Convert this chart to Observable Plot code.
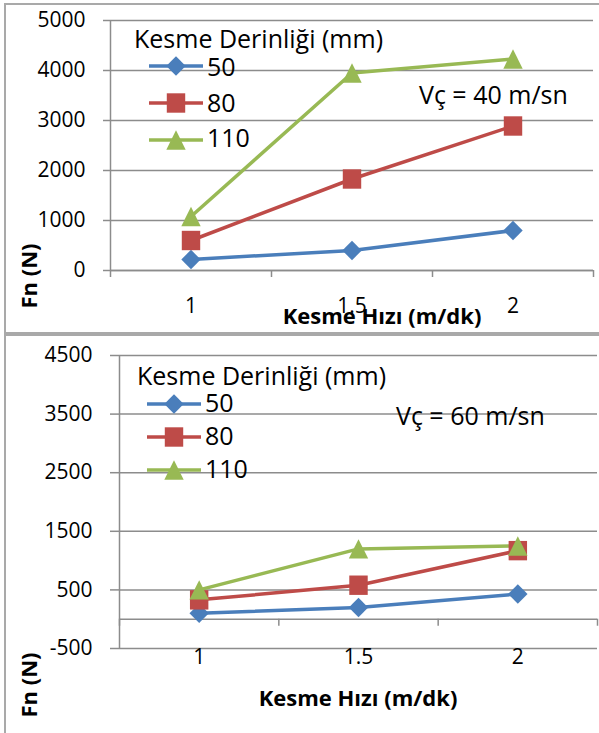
<!DOCTYPE html>
<html><head><meta charset="utf-8">
<script src="https://cdn.jsdelivr.net/npm/d3@7"></script>
<script src="https://cdn.jsdelivr.net/npm/@observablehq/plot@0.6"></script>
<style>
body{margin:0;background:#fff;}
#root{position:relative;width:599px;height:733px;overflow:hidden;font-family:"Open Sans",sans-serif;background:#fff;}
#root svg{position:absolute;left:0;}
.border{position:absolute;border:2px solid #a9a9a9;box-sizing:border-box;}
</style></head><body><div id="root"></div>
<script>
// ---- data ----
const speeds = [1, 1.5, 2];                 // Kesme Hızı (m/dk)
const depths = ["50", "80", "110"];         // Kesme Derinliği (mm)
const colors = ["#4a7ebb", "#be4b48", "#98b954"];
// Vç = 40 m/sn
const fn40_50 = [220, 400, 800];
const fn40_80 = [600, 1830, 2890];
const fn40_110 = [1080, 3950, 4230];
// Vç = 60 m/sn
const fn60_50 = [100, 200, 430];
const fn60_80 = [330, 580, 1170];
const fn60_110 = [500, 1200, 1250];
const yTicks40 = [0, 1000, 2000, 3000, 4000, 5000];
const yTicks60 = [-500, 500, 1500, 2500, 3500, 4500];
const catBounds = [0.75, 1.25, 1.75, 2.25];
const legendTitle = "Kesme Derinliği (mm)";
const xTitle = "Kesme Hızı (m/dk)";
const yTitle = "Fn (N)";

// ---- marker shapes ----
const mk = f => ({draw(ctx, size) { const r = Math.sqrt(size / Math.PI); f(ctx, r); }});
const diamond = mk((c, r) => { c.moveTo(0, -r); c.lineTo(r, 0); c.lineTo(0, r); c.lineTo(-r, 0); c.closePath(); });
const square = mk((c, r) => { c.moveTo(-0.95*r, -r); c.lineTo(0.95*r, -r); c.lineTo(0.95*r, r); c.lineTo(-0.95*r, r); c.closePath(); });
const triangle = mk((c, r) => { c.moveTo(0, -r); c.lineTo(r, r); c.lineTo(-r, r); c.closePath(); });
const shapes = [diamond, square, triangle];

const grid = "#8c8c8c";
const font = "'Open Sans', sans-serif";
const tickFont = 21;

function panel(series, yDomain, yTicks, o) {
  const rows = depths.flatMap((d, i) => speeds.map((s, j) => ({speed: s, depth: d, fn: series[i][j]})));
  return Plot.plot({
    width: 599, height: o.height,
    marginLeft: o.ml, marginRight: o.mr, marginTop: o.mt, marginBottom: o.mb,
    x: {domain: [0.75, 2.25]},
    y: {domain: yDomain},
    color: {domain: depths, range: colors},
    style: {fontFamily: font, fontSize: tickFont + "px", color: "#000", background: "transparent", overflow: "visible"},
    marks: [
      Plot.gridY(yTicks, {stroke: grid, strokeOpacity: 1, strokeWidth: 1.5}),
      Plot.axisY(yTicks, {tickSize: o.ytick, tickPadding: 18, stroke: grid, strokeWidth: 1.5, fill: "#000", tickFormat: d => String(d), label: null, fontSize: tickFont}),
      Plot.ruleX([0.75], {y1: yDomain[0], y2: yDomain[1], stroke: grid, strokeWidth: 1.5}),
      Plot.ruleY([0], {stroke: grid, strokeWidth: 1.5}),
      Plot.ruleX(catBounds, {y1: 0, y2: -o.tickLen, stroke: grid, strokeWidth: 1.5}),
      Plot.axisX(speeds, {tickSize: 0, tickPadding: o.xpad, tickFormat: d => String(d), label: null, fontSize: tickFont, fill: "#000"}),
      Plot.line(rows, {x: "speed", y: "fn", z: "depth", stroke: "depth", strokeWidth: 3.5}),
      ...depths.map((d, i) => Plot.dot(rows.filter(r => r.depth === d), {x: "speed", y: "fn", fill: "depth", symbol: shapes[i], r: 9.7}))
    ]
  });
}

const root = document.getElementById("root");

const p1 = panel([fn40_50, fn40_80, fn40_110], [0, 5000], yTicks40,
  {height: 333, ml: 110, mr: 6, mt: 20, mb: 63, ytick: 7, tickLen: 140, xpad: 28});
p1.style.top = "0px";
root.appendChild(p1);

const p2 = panel([fn60_50, fn60_80, fn60_110], [-500, 4500], yTicks60,
  {height: 398, ml: 119, mr: 2, mt: 20, mb: 85, ytick: 9, tickLen: 120, xpad: 1});
p2.style.top = "335px";
root.appendChild(p2);

// panel borders
const b1 = document.createElement("div"); b1.className = "border";
Object.assign(b1.style, {left: "4px", top: "3px", width: "600px", height: "331px"});
root.appendChild(b1);
const b2 = document.createElement("div"); b2.className = "border";
Object.assign(b2.style, {left: "4px", top: "334px", width: "600px", height: "420px"});
root.appendChild(b2);

// overlay: titles, legends, annotations
const ov = d3.select(root).append("svg").attr("width", 599).attr("height", 733)
  .style("top", "0px").style("font-family", font);

const legFont = 25;
function legend(x0, titleX, titleY, rowsY, baseY) {
  ov.append("text").attr("x", titleX).attr("y", titleY).attr("font-size", legFont).text(legendTitle);
  depths.forEach((d, i) => {
    ov.append("line").attr("x1", x0).attr("x2", x0 + 54).attr("y1", rowsY[i]).attr("y2", rowsY[i])
      .attr("stroke", colors[i]).attr("stroke-width", 3.5);
    ov.append("path").attr("transform", `translate(${x0 + 27},${rowsY[i]})`)
      .attr("d", d3.symbol(shapes[i], Math.PI * 9.7 * 9.7)()).attr("fill", colors[i]);
    ov.append("text").attr("x", x0 + 58).attr("y", baseY[i]).attr("font-size", legFont).text(d);
  });
}
legend(149, 134, 48, [66, 103, 140], [76, 112, 147]);
legend(147, 137, 385, [404, 437, 470], [412, 445, 478]);

ov.append("text").attr("x", 419).attr("y", 104).attr("font-size", legFont).text("Vç = 40 m/sn");
ov.append("text").attr("x", 396).attr("y", 425).attr("font-size", legFont).text("Vç = 60 m/sn");

const titleFont = 22;
ov.append("text").attr("x", 382).attr("y", 324).attr("text-anchor", "middle").attr("font-weight", "bold").attr("font-size", titleFont).text(xTitle);
ov.append("text").attr("x", 358).attr("y", 706).attr("text-anchor", "middle").attr("font-weight", "bold").attr("font-size", titleFont).text(xTitle);

ov.append("text").attr("transform", "translate(37,276) rotate(-90)").attr("text-anchor", "middle").attr("font-weight", "bold").attr("font-size", titleFont).text(yTitle);
ov.append("text").attr("transform", "translate(37,685) rotate(-90)").attr("text-anchor", "middle").attr("font-weight", "bold").attr("font-size", titleFont).text(yTitle);
</script></body></html>
